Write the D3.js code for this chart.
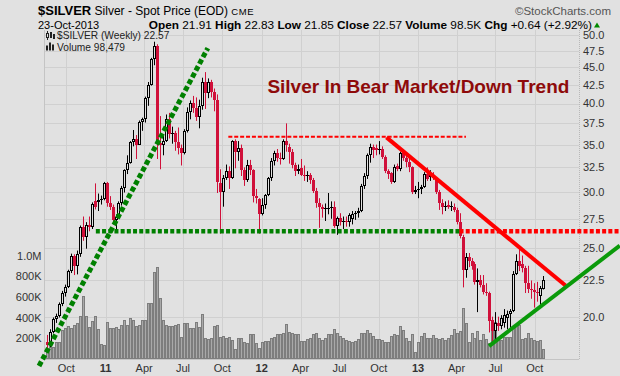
<!DOCTYPE html>
<html>
<head>
<meta charset="utf-8">
<script src="https://cdn.jsdelivr.net/npm/d3@7"></script>
<style>
  html, body { margin: 0; padding: 0; background: #e1e1e1; }
  svg { display: block; font-family: "Liberation Sans", Arial, sans-serif; }
</style>
</head>
<body>
<svg id="chart" width="620" height="376"></svg>
<script>
// weekly bars, Monday dates
const firstWeek = "2010-08-16";
const lastWeek = "2013-10-21";

// [open, high, low, close] per week
const ohlc = [
  [18.45,18.85,17.95,18.25],[18.25,19.20,18.10,19.05],[19.05,19.95,18.95,19.85],[19.85,20.20,19.60,20.05],
  [20.05,20.95,19.95,20.85],[20.85,21.75,20.70,21.60],[21.60,22.20,21.35,22.05],[22.05,23.30,21.95,23.20],
  [23.20,24.55,23.05,24.35],[24.35,24.50,22.90,23.55],[23.55,24.80,22.95,24.55],[24.55,26.90,24.30,26.80],
  [26.80,27.70,25.60,25.95],[25.95,27.20,24.95,26.95],[26.95,27.70,26.40,26.75],[26.75,29.00,26.60,28.85],
  [29.10,30.85,28.35,28.55],[29.05,29.85,28.20,29.20],[29.20,29.65,28.80,29.35],[29.35,31.00,29.20,30.85],
  [30.85,31.00,28.60,28.95],[28.95,29.60,28.30,28.55],[28.55,28.80,27.00,27.40],[27.40,27.90,26.40,27.70],
  [27.70,29.10,27.55,28.95],[28.95,30.60,28.70,30.40],[30.40,32.30,29.95,32.20],[32.20,33.80,31.80,33.00],
  [33.00,35.40,32.90,35.25],[35.25,36.70,34.80,35.60],[35.60,36.10,33.40,35.00],[35.00,37.85,35.00,37.70],
  [37.70,38.20,36.60,38.00],[38.00,40.90,37.60,40.70],[40.70,42.90,39.70,42.50],[42.50,46.40,42.40,46.20],
  [46.20,48.90,45.30,48.30],[48.20,48.50,33.40,35.20],[35.20,38.40,32.30,34.90],[34.90,36.00,33.80,35.40],
  [35.40,38.60,35.30,38.00],[38.00,38.80,35.70,36.20],[36.20,37.10,35.10,36.30],[36.30,36.60,34.30,35.30],
  [35.30,37.00,33.90,34.60],[34.60,35.00,32.70,34.00],[34.00,36.80,33.90,36.60],[36.60,39.50,36.40,38.90],
  [38.90,40.40,38.00,40.10],[40.10,41.00,38.80,39.40],[39.40,40.80,37.80,38.30],[38.30,40.50,36.90,39.70],
  [39.70,43.50,39.20,42.90],[42.90,44.30,39.30,41.40],[41.40,43.40,40.70,42.90],[42.90,43.20,40.80,41.50],
  [41.50,42.00,39.00,40.40],[40.40,41.20,29.90,31.00],[30.90,32.30,26.20,30.00],[30.00,31.70,28.60,31.40],
  [31.40,32.80,31.20,32.10],[32.10,32.60,30.30,31.40],[31.40,35.50,31.30,35.40],[35.40,35.60,32.40,34.20],
  [34.20,35.40,33.20,34.60],[34.60,35.00,31.60,32.20],[32.20,32.50,30.60,31.20],[31.20,33.30,31.00,32.80],
  [32.80,33.30,31.70,32.20],[32.20,32.30,29.00,29.60],[29.60,30.30,28.90,29.40],[29.30,29.40,26.20,27.90],
  [27.90,29.40,27.80,28.80],[28.80,29.80,28.40,29.70],[29.70,31.50,29.60,31.40],[31.40,33.50,31.10,33.20],
  [33.20,34.30,32.70,34.10],[34.10,34.50,33.10,33.50],[33.50,34.10,32.80,33.40],[33.40,35.60,33.30,35.40],
  [35.40,37.50,34.20,34.90],[34.70,35.10,32.90,34.20],[34.20,34.50,32.40,32.70],[32.70,33.00,31.60,32.10],
  [32.10,32.80,31.80,32.30],[32.40,33.40,31.60,31.70],[31.70,32.70,31.10,31.60],[31.60,32.10,31.00,31.70],
  [31.70,31.90,30.80,31.20],[31.20,31.40,29.90,30.10],[30.10,30.40,28.50,28.90],[28.90,29.40,26.70,28.60],
  [28.60,28.80,27.60,28.40],[28.40,28.90,27.30,28.50],[28.50,29.90,27.90,28.50],[28.50,29.10,27.50,28.60],
  [28.60,29.10,26.70,26.90],[26.90,27.70,26.10,27.60],[27.60,28.00,26.90,27.20],[27.20,27.70,26.60,27.30],
  [27.30,27.70,26.80,27.20],[27.20,28.00,26.80,27.80],[27.50,28.20,27.00,27.90],[27.90,28.20,27.40,28.00],
  [28.00,28.50,27.60,28.20],[28.20,30.80,28.10,30.60],[30.60,31.90,30.30,31.60],[31.60,34.00,31.30,33.80],
  [33.80,35.10,33.00,34.70],[34.70,35.00,33.50,34.40],[34.65,35.00,33.80,34.35],[34.35,35.40,33.90,34.50],
  [34.50,34.80,33.40,33.60],[33.60,33.80,31.90,32.10],[32.10,32.30,31.30,31.80],[31.90,32.00,30.80,31.00],
  [31.00,32.80,30.90,32.50],[32.60,32.90,32.10,32.30],[32.30,34.20,32.10,34.00],[34.00,34.40,33.20,33.50],
  [33.50,33.80,32.50,33.10],[33.10,33.60,32.00,32.50],[32.50,32.60,29.80,30.00],[30.00,30.60,29.80,30.20],
  [30.20,31.00,29.40,30.30],[30.30,30.70,29.80,30.50],[30.50,32.00,30.40,31.80],[31.80,32.50,31.10,31.30],
  [31.80,32.20,31.10,31.50],[31.60,32.00,31.20,31.40],[31.40,31.50,29.80,30.00],[30.00,30.20,28.30,28.90],
  [28.90,29.30,27.90,28.60],[28.60,29.10,28.20,28.70],[28.80,29.20,28.40,28.60],[28.70,29.10,28.20,28.60],
  [28.60,28.90,28.10,28.30],[28.30,28.50,27.00,27.20],[27.20,28.00,25.80,26.00],[25.90,26.10,22.00,23.30],
  [23.30,24.60,22.70,24.30],[24.30,24.60,23.50,24.00],[24.00,24.20,23.30,23.60],[23.70,23.90,22.20,22.40],
  [22.40,23.40,20.30,22.50],[22.50,22.90,22.00,22.20],[22.20,22.90,21.50,21.70],[21.70,22.30,21.40,21.60],
  [21.60,21.70,19.00,19.70],[19.80,20.00,18.30,19.10],[19.10,20.30,18.50,19.60],[19.60,20.00,19.10,19.40],
  [19.40,20.10,19.20,19.90],[19.60,20.50,19.30,20.10],[19.90,20.40,19.20,20.20],[20.20,20.50,19.30,20.40],
  [20.40,23.20,20.30,23.00],[23.00,24.50,22.90,24.00],[24.00,25.10,23.20,23.60],[23.70,24.40,23.10,23.40],
  [23.40,23.60,21.60,22.30],[22.30,23.60,21.60,21.90],[21.90,22.50,21.20,21.80],[21.80,22.30,20.60,21.70],
  [21.70,22.40,21.00,21.60],[21.40,22.10,20.80,21.93],[21.91,22.83,21.85,22.57]
];

// weekly volume, thousands
const volumeK = [
  70,165,120,165,165,285,300,315,300,330,
  350,420,610,415,310,370,415,290,145,135,
  360,300,300,310,290,330,375,330,395,375,
  315,330,380,380,540,540,845,890,590,377,
  330,315,320,330,340,213,350,350,300,300,
  361,313,435,203,197,200,316,325,210,226,
  200,210,187,96,200,200,160,155,245,240,
  155,106,160,171,171,200,216,239,239,248,
  342,264,250,245,245,171,171,190,205,245,
  255,200,187,200,240,240,290,250,220,200,
  185,171,160,171,190,250,250,278,250,226,
  190,190,185,160,160,226,240,235,323,278,
  200,171,240,66,160,226,250,200,200,235,
  205,190,200,180,200,232,290,250,274,494,
  348,168,250,206,274,184,242,197,155,310,
  361,184,184,213,216,216,300,330,330,194,
  203,255,203,184,170,184,98.479
];

const priceTicks = [20, 22.5, 25, 27.5, 30, 32.5, 35, 37.5, 40, 42.5, 45, 47.5, 50];
const volumeTicks = [200e3, 400e3, 600e3, 800e3, 1e6];
const volumeTickLabels = ["200K", "400K", "600K", "800K", "1.0M"];
const monthTicks = ["2010-10-01","2011-01-01","2011-04-01","2011-07-01","2011-10-01","2012-01-01",
  "2012-04-01","2012-07-01","2012-10-01","2013-01-01","2013-04-01","2013-07-01","2013-10-01"];
const monthTickLabels = ["Oct","11","Apr","Jul","Oct","12","Apr","Jul","Oct","13","Apr","Jul","Oct"];

// hand-drawn annotations, [date, price]
const uptrend2010 = [["2010-07-29", 17.04], ["2011-08-28", 47.9]];
const supportGreen = [["2010-12-09", 26.4], ["2013-04-08", 26.4]];
const supportRed = [["2013-04-08", 26.4], ["2014-04-18", 26.4]];
const resistance = [["2011-10-15", 35.9], ["2013-04-23", 35.9]];
const downtrend = [["2012-10-19", 35.83], ["2013-12-12", 22.13]];
const uptrend2013 = [["2013-06-16", 18.18], ["2014-04-18", 25.2]];
const noteText = "Silver In Bear Market/Down Trend";
const notePos = ["2013-12-21", 41.4];

const BG = "#e1e1e1", RED = "#d0103a", GRID = "#d0d0d0";
const plot = { left: 44, right: 579, top: 30, bottom: 359 };

const parse = d3.utcParse("%Y-%m-%d");
const weeks = d3.utcMonday.range(parse(firstWeek), d3.utcDay.offset(parse(lastWeek), 1));

const bars = weeks.map((date, i) => ({
  date, o: ohlc[i][0], h: ohlc[i][1], l: ohlc[i][2], c: ohlc[i][3],
  prev: i ? ohlc[i - 1][3] : ohlc[i][0], v: volumeK[i] * 1000
}));

const x = d3.scaleUtc().domain([parse(firstWeek), parse(lastWeek)]).range([46.7, 543.3]);
const y = d3.scaleLog().domain([17.43, 50.8]).range([plot.bottom, plot.top]);
const yv = d3.scaleLinear().domain([0, 1e6]).range([plot.bottom, 255.7]);

const svg = d3.select("#chart");
svg.append("rect").attr("width", 620).attr("height", 376).attr("fill", BG);

// grid
const grid = svg.append("g");
grid.selectAll("line.h").data(priceTicks).join("line")
  .attr("x1", plot.left).attr("x2", plot.right)
  .attr("y1", d => Math.round(y(d)) + 0.5).attr("y2", d => Math.round(y(d)) + 0.5)
  .attr("stroke", GRID);
grid.selectAll("line.v").data(monthTicks).join("line")
  .attr("x1", d => Math.round(x(parse(d))) + 0.5).attr("x2", d => Math.round(x(parse(d))) + 0.5)
  .attr("y1", plot.top).attr("y2", plot.bottom)
  .attr("stroke", GRID);

// plot frame
svg.append("path")
  .attr("d", `M${plot.right + 0.5},${plot.top}V${plot.bottom + 0.5}`)
  .attr("stroke", "#b8b8b8").attr("stroke-dasharray", "1,1").attr("fill", "none");
svg.append("path")
  .attr("d", `M${plot.left + 0.5},${plot.top}V${plot.bottom + 0.5}H${plot.right}`)
  .attr("stroke", "#c4c4c4").attr("fill", "none");

// volume bars
svg.append("g").selectAll("rect").data(bars).join("rect")
  .attr("x", d => Math.round(x(d.date)) - 0.5)
  .attr("y", d => Math.round(yv(d.v)) + 0.5)
  .attr("width", 2)
  .attr("height", d => Math.max(0, plot.bottom - 0.5 - (Math.round(yv(d.v)) + 0.5)))
  .attr("fill", "#a9a9a9").attr("stroke", "#7d7d7d");

// candles: black/red by close vs prior close, hollow when close >= open
const candles = svg.append("g").selectAll("g").data(bars).join("g");
candles.append("line")
  .attr("x1", d => Math.round(x(d.date)) + 0.5).attr("x2", d => Math.round(x(d.date)) + 0.5)
  .attr("y1", d => y(d.h)).attr("y2", d => y(d.l))
  .attr("stroke", d => d.c >= d.prev ? "#000" : RED);
candles.each(function (d) {
  const g = d3.select(this);
  const px = Math.round(x(d.date));
  const col = d.c >= d.prev ? "#000" : RED;
  const top = Math.round(y(Math.max(d.o, d.c)));
  const bot = Math.round(y(Math.min(d.o, d.c)));
  if (d.c < d.o) {
    g.append("rect").attr("x", px - 1).attr("y", top)
      .attr("width", 3).attr("height", Math.max(1, bot - top)).attr("fill", col);
  } else if (bot - top < 2) {
    g.append("rect").attr("x", px - 1).attr("y", top)
      .attr("width", 3).attr("height", 1).attr("fill", col);
  } else {
    g.append("rect").attr("x", px - 0.5).attr("y", top + 0.5)
      .attr("width", 2).attr("height", bot - top - 1)
      .attr("fill", BG).attr("stroke", col);
  }
});

// axes labels
const axisText = svg.append("g").attr("font-size", 11).attr("fill", "#333");
axisText.selectAll("text.p").data(priceTicks).join("text")
  .attr("x", 583).attr("y", d => y(d)).attr("dy", "0.36em")
  .text(d => d.toFixed(1));
axisText.selectAll("text.vol").data(volumeTicks).join("text")
  .attr("x", 41.5).attr("y", d => yv(d)).attr("dy", "0.36em").attr("text-anchor", "end")
  .text((d, i) => volumeTickLabels[i]);
axisText.selectAll("text.m").data(monthTicks).join("text")
  .attr("x", d => x(parse(d))).attr("y", 371.5).attr("text-anchor", "middle")
  .attr("font-weight", (d, i) => /^\d/.test(monthTickLabels[i]) ? "bold" : "normal")
  .text((d, i) => monthTickLabels[i]);

// annotations
const seg = d3.line().x(p => x(parse(p[0]))).y(p => y(p[1]));
const anno = svg.append("g").attr("fill", "none");
anno.append("path").attr("d", seg(uptrend2010))
  .attr("stroke", "#008000").attr("stroke-width", 5).attr("stroke-dasharray", "5,2.6");
anno.append("path").attr("d", seg(supportGreen))
  .attr("stroke", "#008000").attr("stroke-width", 4.5).attr("stroke-dasharray", "4,2.2");
anno.append("path").attr("d", seg(supportRed))
  .attr("stroke", "#ff0000").attr("stroke-width", 4.5).attr("stroke-dasharray", "4,2.2");
anno.append("path").attr("d", seg(resistance))
  .attr("stroke", "#ff0000").attr("stroke-width", 2).attr("stroke-dasharray", "4,1.9");
anno.append("path").attr("d", seg(downtrend))
  .attr("stroke", "#ff0000").attr("stroke-width", 4);
anno.append("path").attr("d", seg(uptrend2013))
  .attr("stroke", "#0a9a0a").attr("stroke-width", 4);

svg.append("text")
  .attr("x", x(parse(notePos[0]))).attr("y", y(notePos[1]))
  .attr("text-anchor", "end").attr("font-size", 19).attr("font-weight", "bold")
  .attr("fill", "#8e0a0a").text(noteText);

// legend inside plot
const last = bars[bars.length - 1];
const leg = svg.append("g").attr("font-size", 10.2).attr("fill", "#222");
leg.append("line").attr("x1", 47.5).attr("x2", 47.5).attr("y1", 31).attr("y2", 40).attr("stroke", "#222");
leg.append("rect").attr("x", 46.5).attr("y", 33.5).attr("width", 2).attr("height", 4).attr("fill", BG).attr("stroke", "#222");
leg.append("rect").attr("x", 50).attr("y", 32).attr("width", 2).attr("height", 6).attr("fill", "#222");
leg.append("rect").attr("x", 53).attr("y", 34).attr("width", 2).attr("height", 5).attr("fill", "#222");
leg.append("text").attr("x", 57).attr("y", 39).text(`$SILVER (Weekly) ${last.c.toFixed(2)}`);
[5, 8, 6].forEach((hgt, i) => leg.append("rect")
  .attr("x", 46 + i * 3).attr("y", 50.5 - hgt).attr("width", 2).attr("height", hgt).attr("fill", "#222"));
leg.append("text").attr("x", 57).attr("y", 50.5).text(`Volume ${d3.format(",")(Math.round(last.v))}`);

// header
const head = svg.append("g").attr("fill", "#000");
const t1 = head.append("text").attr("x", 38).attr("y", 15);
t1.append("tspan").attr("font-size", 13).attr("font-weight", "bold").text("$SILVER");
t1.append("tspan").attr("font-size", 12).text(" Silver - Spot Price (EOD) ");
t1.append("tspan").attr("font-size", 9.5).attr("letter-spacing", 0.6).text("CME");
head.append("text").attr("x", 611).attr("y", 15).attr("text-anchor", "end")
  .attr("font-size", 11.5).attr("fill", "#555").text("\u00a9StockCharts.com");
head.append("text").attr("x", 38).attr("y", 28.5).attr("font-size", 11).text("23-Oct-2013");

const prevClose = bars[bars.length - 2].c;
const chg = last.c - prevClose;
const fields = [
  ["Open", last.o.toFixed(2)], ["High", last.h.toFixed(2)], ["Low", last.l.toFixed(2)],
  ["Close", last.c.toFixed(2)], ["Volume", (last.v / 1000).toFixed(1) + "K"],
  ["Chg", `+${chg.toFixed(2)} (+${(chg / prevClose * 100).toFixed(2)}%)`]
];
const t2 = head.append("text").attr("x", 592).attr("y", 28.5).attr("text-anchor", "end").attr("font-size", 11.8);
fields.forEach(([k, v], i) => {
  t2.append("tspan").attr("font-weight", "bold").text((i ? " " : "") + k + " ");
  t2.append("tspan").text(v);
});
head.append("path").attr("d", "M594,27.5L600,27.5L597,22.5Z").attr("fill", "#008a00");
</script>
</body>
</html>
